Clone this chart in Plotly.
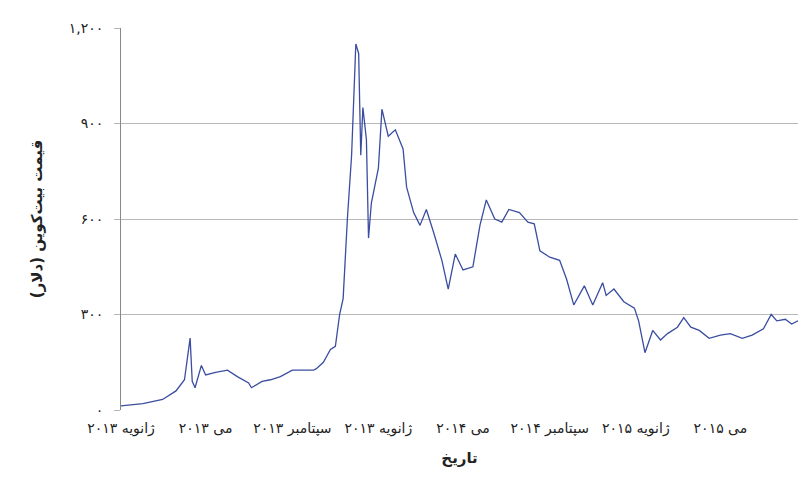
import plotly.graph_objects as go

# Bitcoin price (USD)
dates = [
    "2013-01-01", "2013-02-01", "2013-03-01", "2013-03-20", "2013-04-01", "2013-04-09",
    "2013-04-12", "2013-04-16", "2013-04-25", "2013-05-01", "2013-05-15", "2013-06-01",
    "2013-06-15", "2013-07-01", "2013-07-05", "2013-07-20", "2013-08-01", "2013-08-15",
    "2013-09-01", "2013-09-15", "2013-10-01", "2013-10-05", "2013-10-15", "2013-10-25",
    "2013-11-01", "2013-11-07", "2013-11-12", "2013-11-18", "2013-11-24", "2013-11-30",
    "2013-12-04", "2013-12-07", "2013-12-10", "2013-12-15", "2013-12-18", "2013-12-22",
    "2014-01-01", "2014-01-06", "2014-01-15", "2014-01-25", "2014-02-05", "2014-02-10",
    "2014-02-20", "2014-03-01", "2014-03-10", "2014-03-20", "2014-04-01", "2014-04-10",
    "2014-04-20", "2014-05-01", "2014-05-15", "2014-05-25", "2014-06-03", "2014-06-15",
    "2014-06-25", "2014-07-05", "2014-07-20", "2014-08-01", "2014-08-10", "2014-08-18",
    "2014-09-01", "2014-09-15", "2014-09-25", "2014-10-05", "2014-10-20", "2014-11-01",
    "2014-11-15", "2014-11-20", "2014-12-01", "2014-12-15", "2014-12-30", "2015-01-05",
    "2015-01-14", "2015-01-25", "2015-02-05", "2015-02-15", "2015-03-01", "2015-03-10",
    "2015-03-20", "2015-04-01", "2015-04-15", "2015-05-01", "2015-05-15", "2015-06-01",
    "2015-06-15", "2015-07-01", "2015-07-12", "2015-07-20", "2015-08-01", "2015-08-10",
    "2015-08-19",
]
price = [
    13, 20, 33, 60, 95, 226,
    90, 70, 140, 110, 118, 125,
    105, 85, 70, 90, 95, 105,
    125, 125, 125, 130, 150, 190,
    200, 300, 350, 600, 800, 1150,
    1120, 800, 950, 850, 540, 650,
    760, 945, 860, 880, 820, 700,
    620, 580, 630, 560, 470, 380,
    490, 440, 450, 580, 660, 600,
    590, 630, 620, 590, 585, 500,
    480, 470, 410, 330, 390, 330,
    400, 360, 380, 340, 320, 280,
    180, 250, 220, 240, 260, 290,
    260, 250, 225, 235, 240, 225,
    235, 255, 300, 280, 285, 270,
    280,
]

tick_dates = ["2013-01-01", "2013-05-01", "2013-09-01", "2014-01-01",
              "2014-05-01", "2014-09-01", "2015-01-01", "2015-05-01"]
tick_labels = ["ژانویه ۲۰۱۳", "می ۲۰۱۳", "سپتامبر ۲۰۱۳", "ژانویه ۲۰۱۳",
               "می ۲۰۱۴", "سپتامبر ۲۰۱۴", "ژانویه ۲۰۱۵", "می ۲۰۱۵"]
y_ticks = [0, 300, 600, 900, 1200]
y_labels = ["۰", "۳۰۰", "۶۰۰", "۹۰۰", "۱,۲۰۰"]

fig = go.Figure(go.Scatter(x=dates, y=price, mode="lines",
                           line=dict(color="#3a4da0", width=1.3)))

fig.update_layout(
    width=810, height=483,
    margin=dict(l=113, r=20, t=16, b=81),
    plot_bgcolor="white", paper_bgcolor="white",
    font=dict(family="DejaVu Sans", size=14, color="#222"),
    showlegend=False,
)
fig.update_xaxes(
    range=["2013-01-01", "2015-08-19"],
    tickvals=tick_dates, ticktext=tick_labels,
    showgrid=False, showline=False, ticks="", ticklabelstandoff=8,
    title=dict(text="<b>تاریخ</b>", standoff=16, font=dict(size=15)),
)
fig.update_yaxes(
    range=[0, 1200], tickvals=y_ticks, ticktext=y_labels,
    showgrid=True, gridcolor="#b8b8b8", gridwidth=1,
    showline=True, linecolor="#888", ticks="outside", ticklen=6, tickcolor="#b8b8b8",
    zeroline=False, ticklabelstandoff=8,
    title=dict(text="<b>قیمت بیت‌کوین (دلار)</b>", standoff=22, font=dict(size=15)),
)

fig.write_html("out.html")
